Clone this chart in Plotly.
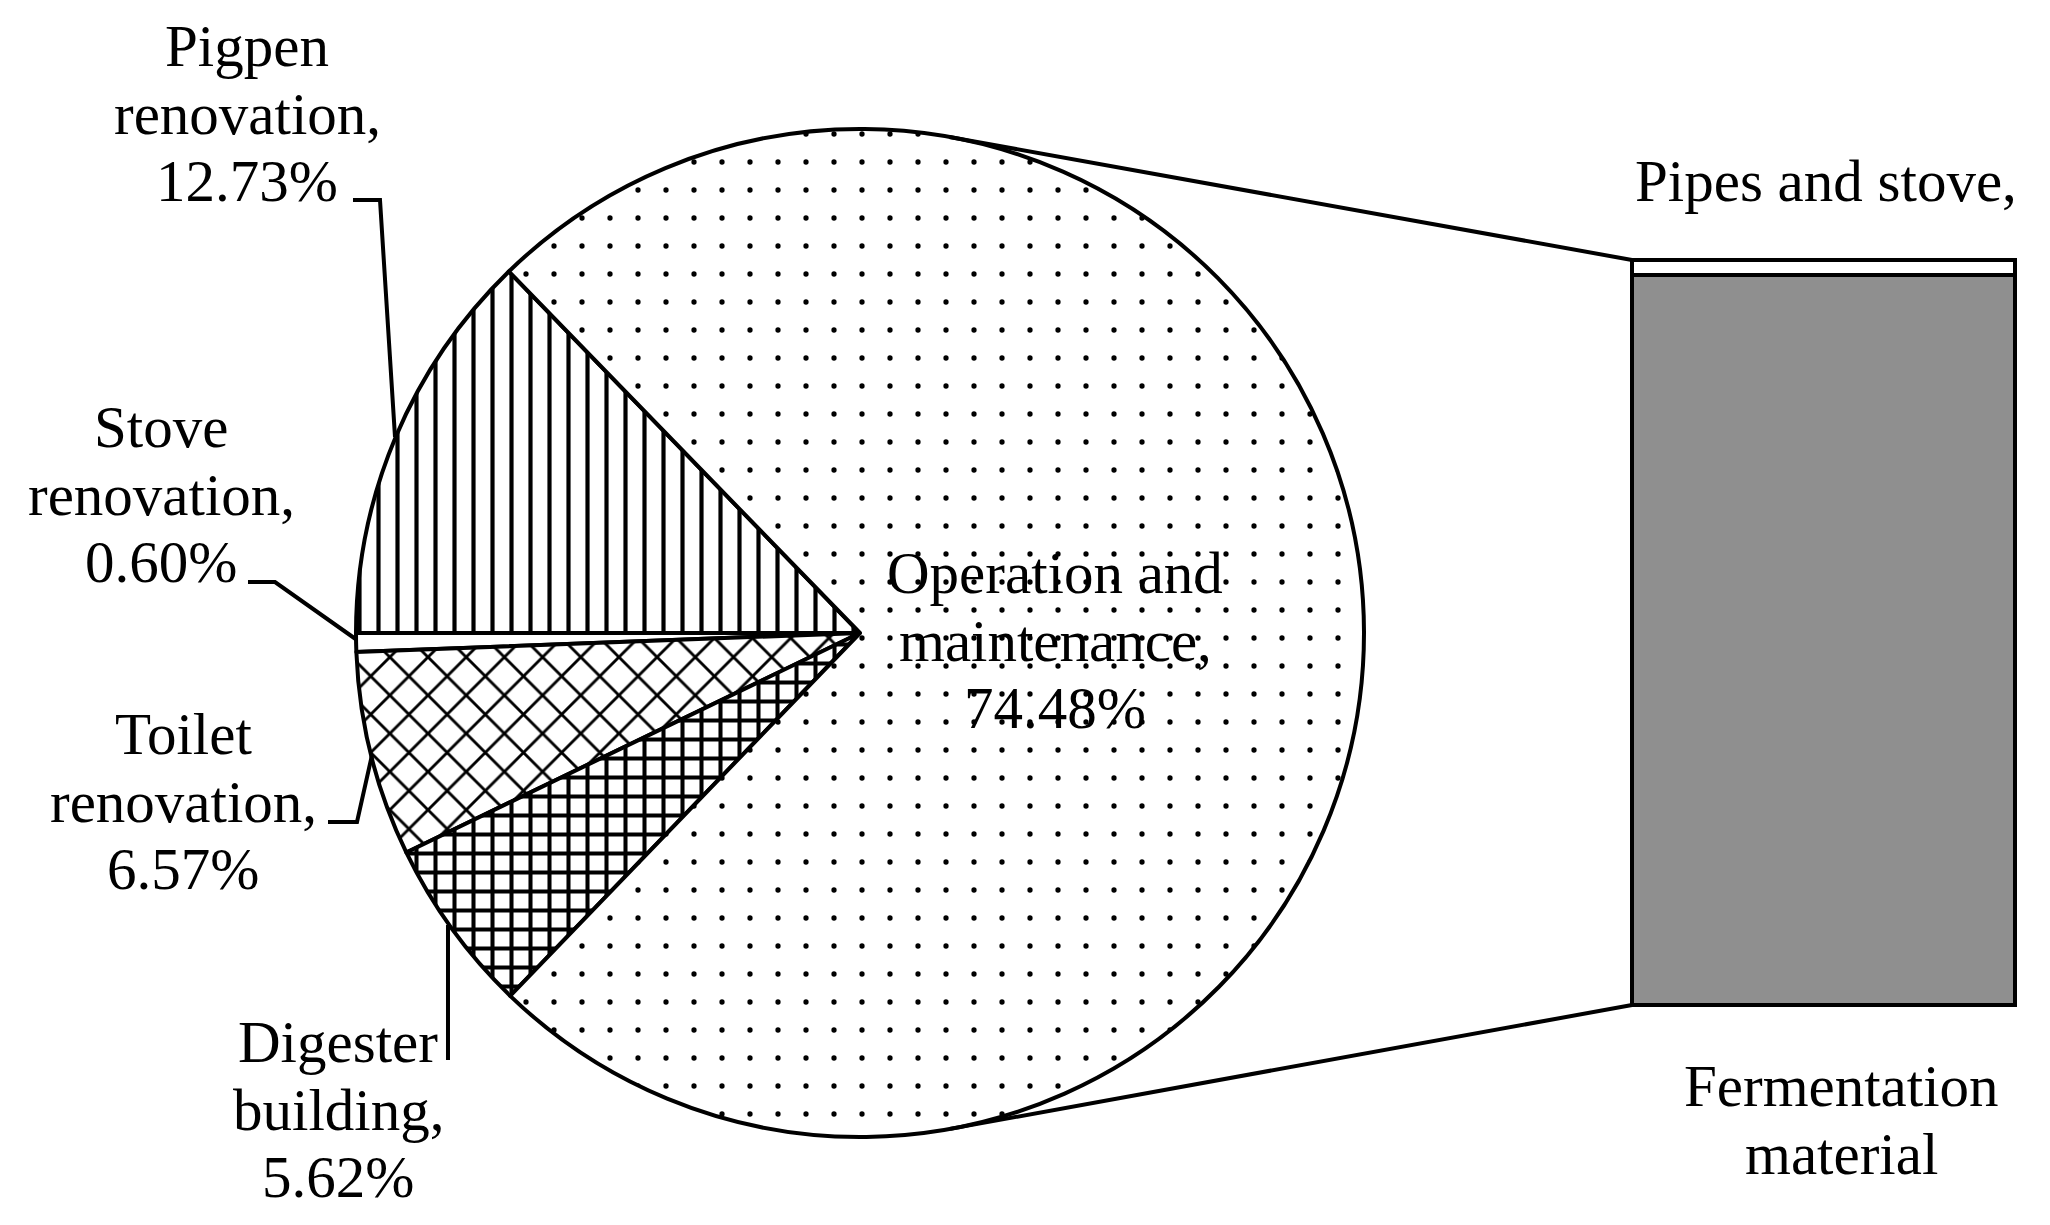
import math
import plotly.graph_objects as go

W, H = 2050, 1225

# ---------------- data ----------------
categories = ["Pigpen renovation", "Stove renovation", "Toilet renovation",
              "Digester building", "Operation and maintenance"]
shares = [12.73, 0.60, 6.57, 5.62, 74.48]
patterns = ["|", "", "x", "+", "."]
label_lines = [["Pigpen", "renovation,"], ["Stove", "renovation,"],
               ["Toilet", "renovation,"], ["Digester", "building,"],
               ["Operation and", "maintenance,"]]

bar_categories = ["Fermentation material", "Pipes and stove"]
bar_shares = [98.0, 2.0]
bar_colors = ["#8f8f8f", "#ffffff"]
bar_label_lines = [["Fermentation", "material"], ["Pipes and stove,"]]

# ---------------- styles / layout geometry (pixels) ----------------
FONT = "Liberation Serif, Times New Roman, serif"
FS = 59
LINE_GAP = 67.5
LW = 4
pat_size = {"|": 19, "": 8, "x": 27, "+": 19, ".": 28}
pat_solid = {"|": 0.22, "": 0.3, "x": 0.2, "+": 0.38, ".": 0.028}

OFF = 8  # page body margin
cx, cy, R = 860.0, 633.0, 504.0          # pie centre / radius in px
bx0, bx1, by_top, by_bot = 1632.0, 2015.0, 260.0, 1005.0  # bar box in px


def px(x):
    return (x - OFF) / W


def py(y):
    return 1 - (y - OFF) / H


fig = go.Figure()

# counterclockwise pie: first slice's clockwise edge sits at 9 o'clock
fig.add_trace(go.Pie(
    labels=categories, values=shares, sort=False,
    direction="counterclockwise",
    rotation=-90,
    marker=dict(
        colors=["white"] * len(shares),
        line=dict(color="black", width=LW),
        pattern=dict(shape=patterns,
                     size=[pat_size[p] for p in patterns],
                     solidity=[pat_solid[p] for p in patterns],
                     fgcolor="black", bgcolor="white", fillmode="replace"),
    ),
    textinfo="none", showlegend=False, hoverinfo="label+percent",
    domain=dict(x=[px(cx - R), px(cx + R)], y=[py(cy + R), py(cy - R)]),
))

# stacked bar (bar of pie)
for name, val, col in zip(bar_categories, bar_shares, bar_colors):
    fig.add_trace(go.Bar(
        x=[0], y=[val], name=name, width=1, showlegend=False,
        marker=dict(color=col, line=dict(color="black", width=LW)),
    ))

total = sum(bar_shares)
xpad, ypad = 0.05, 2.0
ux = (bx1 - bx0)            # px per x unit
uy = (by_bot - by_top) / total
fig.update_xaxes(range=[-0.5 - xpad, 0.5 + xpad], visible=False,
                 domain=[px(bx0 - xpad * ux), px(bx1 + xpad * ux)])
fig.update_yaxes(range=[-ypad, total + ypad], visible=False,
                 domain=[py(by_bot + ypad * uy), py(by_top - ypad * uy)])

shapes = []


def seg(points):
    path = "M " + " L ".join(f"{px(x):.5f},{py(y):.5f}" for x, y in points)
    shapes.append(dict(type="path", path=path, xref="paper", yref="paper",
                       line=dict(color="black", width=LW)))


def tangent(corner, upper):
    dx, dy = corner[0] - cx, cy - corner[1]
    d = math.hypot(dx, dy)
    th = math.atan2(dy, dx)
    a = math.acos(R / d)
    t = th + a if upper else th - a
    return (cx + R * math.cos(t), cy - R * math.sin(t))


seg([tangent((bx0, by_top), True), (bx0, by_top)])
seg([tangent((bx0, by_bot), False), (bx0, by_bot)])

# leader lines
seg([(353, 200), (380, 200), (395, 437)])
seg([(248, 582), (275, 582), (357, 640)])
seg([(328, 822), (357, 822), (372, 755)])
seg([(448, 1060), (448, 925)])

annotations = []


def block(lines, x, y_first_baseline):
    for i, t in enumerate(lines):
        yc = y_first_baseline + i * LINE_GAP - 20
        annotations.append(dict(text=t, x=px(x), y=py(yc), xref="paper", yref="paper",
                                showarrow=False, xanchor="center", yanchor="middle",
                                font=dict(family=FONT, size=FS, color="black")))


label_pos = [(247, 66), (161, 447), (183, 754), (338, 1062), (1055, 593)]
for lines, v, (x, y) in zip(label_lines, shares, label_pos):
    block(lines + [f"{v:.2f}%"], x, y)

block(bar_label_lines[1], 1826, 201)
block(bar_label_lines[0], 1841, 1106)

fig.update_layout(
    width=W, height=H, margin=dict(l=0, r=0, t=0, b=0),
    paper_bgcolor="white", plot_bgcolor="white",
    barmode="stack", shapes=shapes, annotations=annotations,
)

fig.write_html("out.html")
